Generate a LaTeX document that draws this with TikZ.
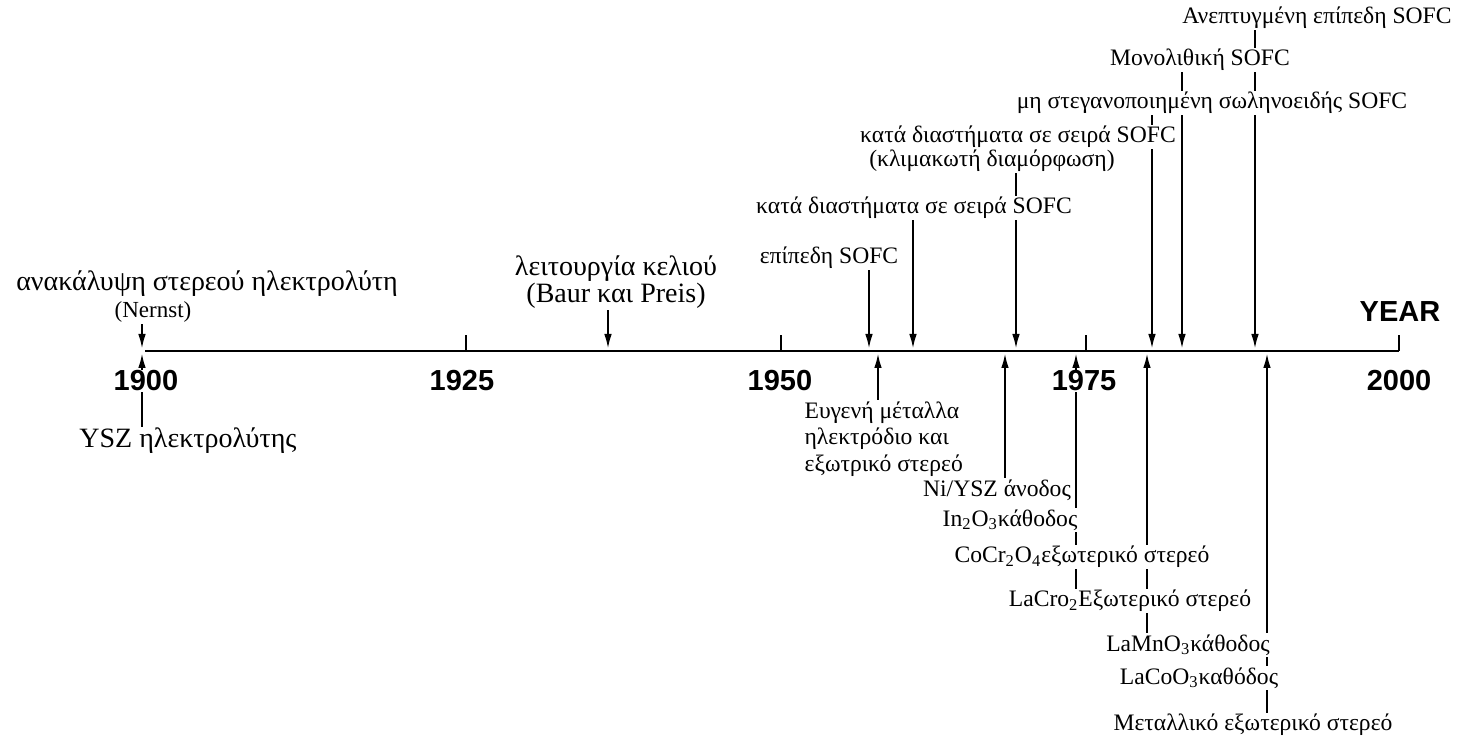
\documentclass[tikz,border=0pt]{standalone}
\usepackage{fontspec}
\setmainfont{Liberation Serif}
\newfontfamily\yearfont{Liberation Sans}
\usetikzlibrary{arrows.meta}
\usetikzlibrary{backgrounds}
\tikzset{>={Latex[length=7.5pt,width=3.8pt]}}
\tikzset{
  event/.style={font=\fontsize{11.8}{13.3}\selectfont, fill=white, inner sep=0.6pt},
  bigevent/.style={event, font=\fontsize{14}{11}\selectfont},
  smallevent/.style={event, font=\fontsize{11.5}{12}\selectfont},
  yearlabel/.style={font=\yearfont\bfseries\fontsize{14.5}{16}\selectfont, fill=white, inner sep=0.6pt},
  hit/.style={->, line width=1.1pt},
  axisline/.style={line width=1.4pt}
}

\begin{document}
\begin{tikzpicture}[x=0.5pt, y=-0.5pt]
\useasboundingbox (0,0) rectangle (1458,742);

% axis points
\coordinate (y1900) at (145,351);
\coordinate (y1925) at (466,351);
\coordinate (y1950) at (781,351);
\coordinate (y1975) at (1086,351);
\coordinate (y2000) at (1399,351);

% events above the axis
\coordinate (a1900) at (142,349);
\coordinate (a1937) at (608,349);
\coordinate (a1958) at (869,349);
\coordinate (a1961) at (913,349);
\coordinate (a1969) at (1016,349);
\coordinate (a1980) at (1152,349);
\coordinate (a1982) at (1182,349);
\coordinate (a1987) at (1255,349);

% events below the axis
\coordinate (b1900) at (142,353);
\coordinate (b1958) at (878,353);
\coordinate (b1968) at (1005,353);
\coordinate (b1975) at (1076,353);
\coordinate (b1980) at (1147,353);
\coordinate (b1988) at (1267,353);

% labels
\node[bigevent] (discovery) at (207,284) {ανακάλυψη στερεού ηλεκτρολύτη};
\node[smallevent] (nernst) at (153,312) {(Nernst)};
\node[bigevent] (ysz) at (188,441) {YSZ ηλεκτρολύτης};
\node[bigevent, align=center] (baur) at (616,282) {λειτουργία κελιού\\(Baur και Preis)};
\node[event] (planar) at (829,258) {επίπεδη SOFC};
\node[event] (series) at (914,208) {κατά διαστήματα σε σειρά SOFC};
\node[event] (stepA) at (1018,137) {κατά διαστήματα σε σειρά SOFC};
\node[event] (stepB) at (992,161) {(κλιμακωτή διαμόρφωση)};
\node[event] (tubular) at (1212,103) {μη στεγανοποιημένη σωληνοειδής SOFC};
\node[event] (mono) at (1200,60) {Μονολιθική SOFC};
\node[event] (advplanar) at (1317,18) {Ανεπτυγμένη επίπεδη SOFC};

\node[event, align=left, anchor=west] (noble) at (803,439) {Ευγενή μέταλλα\\ηλεκτρόδιο και\\εξωτρικό στερεό};
\node[event] (nianode) at (997,490) {Ni/YSZ άνοδος};
\node[event] (incath) at (1010,520) {In\textsubscript{2}O\textsubscript{3}κάθοδος};
\node[event] (cocr) at (1082,557) {CoCr\textsubscript{2}O\textsubscript{4}εξωτερικό στερεό};
\node[event] (lacr) at (1130,601) {LaCro\textsubscript{2}Εξωτερικό στερεό};
\node[event] (lamn) at (1188,645) {LaMnO\textsubscript{3}κάθοδος};
\node[event] (laco) at (1199,678) {LaCoO\textsubscript{3}καθόδος};
\node[event] (metal) at (1253,725) {Μεταλλικό εξωτερικό στερεό};

% years
\node[yearlabel] (l1900) at (146,381) {1900};
\node[yearlabel] (l1925) at (462,381) {1925};
\node[yearlabel] (l1950) at (780,381) {1950};
\node[yearlabel] (l1975) at (1084,381) {1975};
\node[yearlabel] (l2000) at (1399,381) {2000};
\node[yearlabel] (year) at (1400,312) {YEAR};

% axis
\draw[axisline] (y1900) -- (y2000);
\foreach \y in {1925,1950,1975,2000}
  \draw[line width=0.9pt] (y\y) -- ++(0,-16);

% arrows behind the labels
\begin{scope}[on background layer]
\draw[hit] (nernst.south -| a1900) -- (a1900);
\draw[hit] (baur.south -| a1937) -- (a1937);
\draw[hit] (planar.south -| a1958) -- (a1958);
\draw[hit] (series.south -| a1961) -- (a1961);
\draw[hit] (stepB.south -| a1969) -- (a1969);
\draw[hit] (tubular.south -| a1980) -- (a1980);
\draw[hit] (mono.south -| a1982) -- (a1982);
\draw[hit] (advplanar.south -| a1987) -- (a1987);
\draw[hit] (ysz.north -| b1900) -- (b1900);
\draw[hit] (noble.north -| b1958) -- (b1958);
\draw[hit] (nianode.north -| b1968) -- (b1968);
\draw[hit] (lacr.north -| b1975) -- (b1975);
\draw[hit] (lamn.north -| b1980) -- (b1980);
\draw[hit] (metal.north -| b1988) -- (b1988);
\end{scope}
\end{tikzpicture}
\end{document}
